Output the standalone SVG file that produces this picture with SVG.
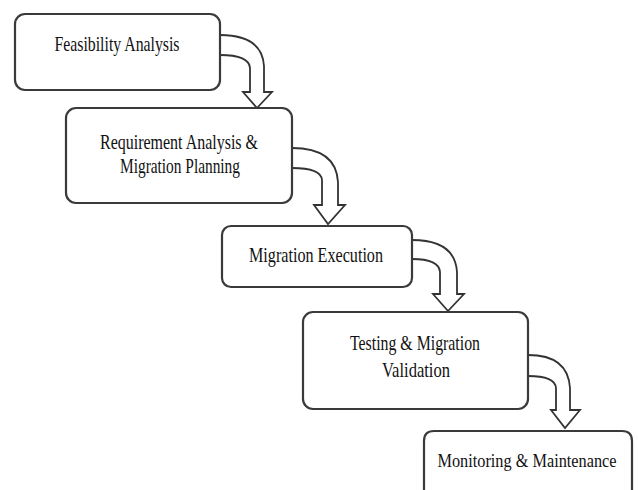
<svg xmlns="http://www.w3.org/2000/svg" width="638" height="490" viewBox="0 0 638 490">
<style>
.box{fill:#fff;stroke:#3a3a3a;stroke-width:2.2}
.arr{fill:#fff;stroke:#333;stroke-width:1.8;stroke-linejoin:miter}
.t{font-family:"Liberation Serif","Times New Roman",serif;font-size:22px;fill:#111;text-anchor:middle}
</style>
<rect width="638" height="490" fill="#fff"/>
<g id="connectors">
<path class="arr" d="M220,35 Q262,35 264,66 L264,92 L272,92 L257,108 L243,92 L250,92 L250,68 Q249,55 220,55"/>
<path class="arr" d="M292,148 Q336,148 338,182 L338,205 L345,205 L328,224 L314,205 L322,205 L322,180 Q321,168 292,168"/>
<path class="arr" d="M412,240 Q455,240 457,272 L457,294 L464,294 L448,311 L433,294 L440,294 L440,272 Q439,259 412,259"/>
<path class="arr" d="M528,355 Q568,355 570,388 L570,410 L580,410 L565,428 L551,410 L556,410 L556,388 Q555,376 528,376"/>
</g>
<g id="n1">
<rect class="box" x="15" y="14" width="205" height="76" rx="10"/>
<text class="t" x="117" y="51" textLength="125" lengthAdjust="spacingAndGlyphs">Feasibility Analysis</text>
</g>
<g id="n2">
<rect class="box" x="66" y="108" width="226" height="95" rx="10"/>
<text class="t" x="179" y="149" textLength="158" lengthAdjust="spacingAndGlyphs">Requirement Analysis &amp;</text>
<text class="t" x="180" y="173" textLength="120" lengthAdjust="spacingAndGlyphs">Migration Planning</text>
</g>
<g id="n3">
<rect class="box" x="222" y="226" width="190" height="61" rx="9"/>
<text class="t" x="316" y="262" textLength="134" lengthAdjust="spacingAndGlyphs">Migration Execution</text>
</g>
<g id="n4">
<rect class="box" x="303" y="312" width="225" height="97" rx="10"/>
<text class="t" x="415" y="350" textLength="130" lengthAdjust="spacingAndGlyphs">Testing &amp; Migration</text>
<text class="t" x="416" y="377" textLength="68" lengthAdjust="spacingAndGlyphs">Validation</text>
</g>
<g id="n5">
<path class="box" d="M424,490 L424,441 Q424,431 434,431 L622,431 Q632,431 632,441 L632,490"/>
<text class="t" x="527" y="467" style="font-size:19px" textLength="179" lengthAdjust="spacingAndGlyphs">Monitoring &amp; Maintenance</text>
</g>
</svg>
